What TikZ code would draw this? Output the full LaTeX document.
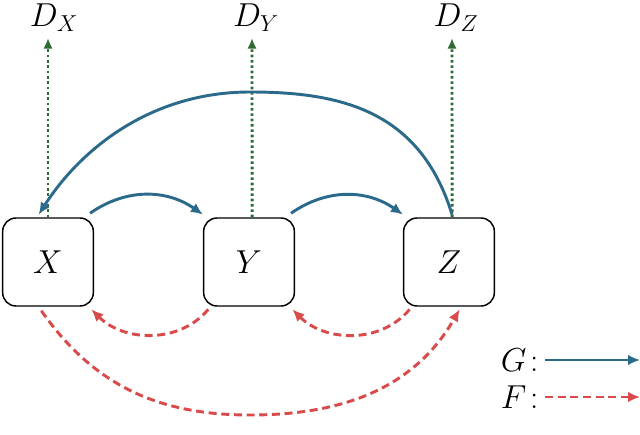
\documentclass[tikz,border=0pt]{standalone}
\usetikzlibrary{arrows.meta}
\definecolor{gblue}{HTML}{2B6A8A}
\definecolor{fred}{HTML}{D94A4A}
\definecolor{dgreen}{HTML}{2E6B35}
\begin{document}
\begin{tikzpicture}[x=0.75pt,y=-0.75pt,
  box/.style={draw,line width=1.1pt,rounded corners=10pt,minimum width=68pt,minimum height=66pt,font=\fontsize{25}{28}\selectfont},
  lab/.style={font=\fontsize{25}{28}\selectfont,inner sep=1pt},
  G/.style={draw=gblue,line width=2.2pt,-{Latex[length=9pt,width=8pt]}},
  F/.style={draw=fred,line width=2.2pt,dash pattern=on 6pt off 3.5pt,-{Latex[length=9pt,width=8pt]}},
  D/.style={draw=dgreen,line width=2.2pt,dash pattern=on 2pt off 2pt,-{Latex[length=8pt,width=7pt]}}]
\useasboundingbox (0,0) rectangle (640,435);
\node[box] (X) at (48,262) {$X$};
\node[box] (Y) at (249,262) {$Y$};
\node[box] (Z) at (449,262) {$Z$};
\node[lab] (DX) at (54,18) {$D_X$};
\node[lab] (DY) at (256,18) {$D_Y$};
\node[lab] (DZ) at (456,18) {$D_Z$};
\coordinate (tX) at (48,38);
\coordinate (tY) at (252,38);
\coordinate (tZ) at (452,38);
\draw[D] (X.north) -- (tX);
\draw[D] ([xshift=2.3pt]Y.north) -- (tY);
\draw[D] ([xshift=2.3pt]Z.north) -- (tZ);
% G arrows
\draw[G] ([xshift=-3pt,yshift=3pt]X.north east) to[out=35,in=145] ([xshift=0pt,yshift=2pt]Y.north west);
\draw[G] ([xshift=-3pt,yshift=3pt]Y.north east) to[out=35,in=145] ([xshift=0pt,yshift=2pt]Z.north west);
\draw[G] ([xshift=2.3pt,yshift=2pt]Z.north) .. controls (420,110) and (340,92) .. (250,92) .. controls (150,92) and (80,150) .. ([xshift=-7pt,yshift=2pt]X.north);
% F arrows
\draw[F] ([xshift=4pt,yshift=-2pt]Y.south west) to[out=-130,in=-45] ([xshift=-2pt,yshift=-2pt]X.south east);
\draw[F] ([xshift=5pt,yshift=-2pt]Z.south west) to[out=-130,in=-45] ([xshift=-2pt,yshift=-2pt]Y.south east);
\draw[F] ([xshift=-5pt,yshift=-3pt]X.south) to[out=-55,in=180] (250,415) to[out=0,in=-120] ([xshift=8pt,yshift=-2pt]Z.south);
% legend
\node[lab,anchor=east] (LG) at (540,360) {$G\!:$};
\node[lab,anchor=east] (LF) at (540,397) {$F\!:$};
\coordinate (EG) at (640,360);
\coordinate (EF) at (640,397);
\draw[G] (LG.east) ++(5,0) -- (EG);
\draw[F] (LF.east) ++(5,0) -- (EF);
\end{tikzpicture}
\end{document}
